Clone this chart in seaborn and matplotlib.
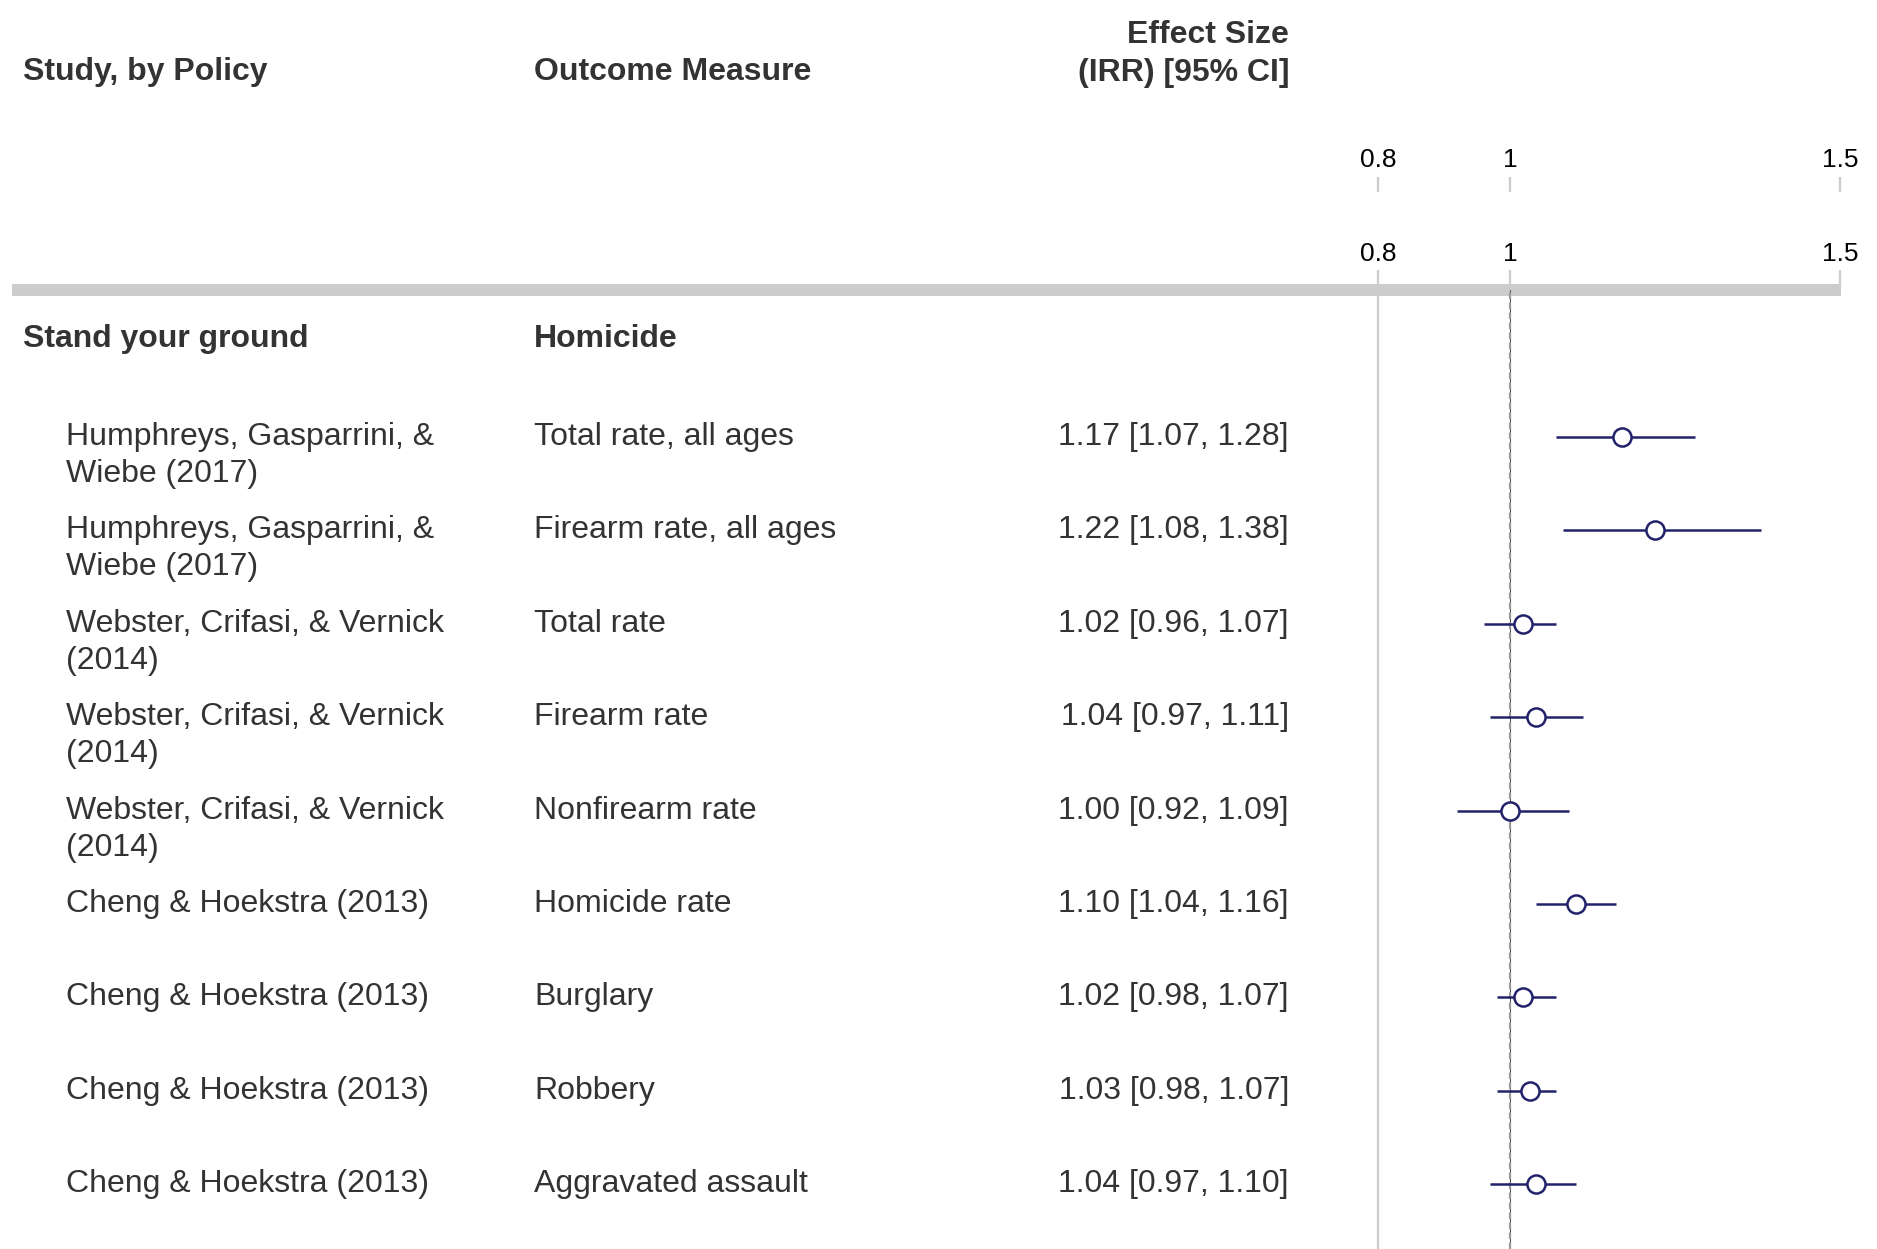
import numpy as np
import pandas as pd
import seaborn as sns
import matplotlib.pyplot as plt
from matplotlib.lines import Line2D
from matplotlib.transforms import blended_transform_factory

# Dados
policy = 'Stand your ground'
outcome_group = 'Homicide'
studies = [
    'Humphreys, Gasparrini, &\nWiebe (2017)',
    'Humphreys, Gasparrini, &\nWiebe (2017)',
    'Webster, Crifasi, & Vernick\n(2014)',
    'Webster, Crifasi, & Vernick\n(2014)',
    'Webster, Crifasi, & Vernick\n(2014)',
    'Cheng & Hoekstra (2013)',
    'Cheng & Hoekstra (2013)',
    'Cheng & Hoekstra (2013)',
    'Cheng & Hoekstra (2013)',
]
outcomes = [
    'Total rate, all ages',
    'Firearm rate, all ages',
    'Total rate',
    'Firearm rate',
    'Nonfirearm rate',
    'Homicide rate',
    'Burglary',
    'Robbery',
    'Aggravated assault',
]
irr = [1.17, 1.22, 1.02, 1.04, 1.00, 1.10, 1.02, 1.03, 1.04]
ci_low = [1.07, 1.08, 0.96, 0.97, 0.92, 1.04, 0.98, 0.98, 0.97]
ci_high = [1.28, 1.38, 1.07, 1.11, 1.09, 1.16, 1.07, 1.07, 1.10]
tick_values = [0.8, 1, 1.5]
tick_labels = ['0.8', '1', '1.5']

df = pd.DataFrame({'study': studies, 'outcome': outcomes, 'irr': irr,
                   'low': ci_low, 'high': ci_high})
df['row'] = np.arange(1, len(df) + 1)

sns.set_style('white')
plt.rcParams['font.family'] = ['Liberation Sans', 'DejaVu Sans']

W, H = 1877, 1249
fig = plt.figure(figsize=(W / 100, H / 100), dpi=100)

# geometria em pixels
px_unit = 660.0
x_one = 1510
ax_left, ax_right = 1333, 1842
ax_top = 290
row0, row_step = 343.6, 93.4

ax = fig.add_axes([ax_left / W, 0, (ax_right - ax_left) / W, (H - ax_top) / H])
ax.patch.set_visible(False)

navy = '#21226a'
txt = '#333333'

ax.axvline(0.8, color='#cccccc', lw=1.6, zorder=1)
ax.axvline(1, color='#444444', lw=0.7, zorder=1)
ax.axvline(1, color='#9a9a9a', lw=1.6, ls=(0, (3, 1.5)), zorder=1)

ax.hlines(df['row'], df['low'], df['high'], color=navy, lw=1.8, zorder=2)
sns.scatterplot(data=df, x='irr', y='row', ax=ax, s=170, color='white',
                edgecolor=navy, linewidth=1.8, zorder=3, legend=False)

ax.set_xlim(1 - (x_one - ax_left) / px_unit, 1 + (ax_right - x_one) / px_unit)
ax.set_ylim((H - row0) / row_step, (ax_top - row0) / row_step)
ax.set_xlabel('')
ax.set_ylabel('')
ax.set_yticks([])
for s in ax.spines.values():
    s.set_visible(False)

# eixo superior (dois niveis)
ax.xaxis.tick_top()
ax.set_xticks(tick_values)
ax.set_xticklabels(tick_labels)
ax.tick_params(axis='x', top=True, bottom=False, length=14.4, width=1.6,
               color='#cccccc', labelsize=19, labelcolor='black', pad=3)
sec = ax.secondary_xaxis((H - 192) / (H - ax_top))
sec.set_xticks(tick_values)
sec.set_xticklabels(tick_labels)
sec.tick_params(axis='x', length=10.5, width=1.6, color='#cccccc',
                labelsize=19, labelcolor='black', pad=4)
sec.spines['top'].set_visible(False)

# barra grossa
fig.add_artist(Line2D([12 / W, 1841 / W], [1 - ax_top / H] * 2, lw=8.6,
                      color='#cccccc', solid_capstyle='butt', zorder=0))

# cabecalhos
fs = 23
def fy(p):
    return 1 - p / H

fig.text(23 / W, fy(72), 'Study, by Policy', fontsize=fs, fontweight='bold',
         color=txt, va='center', ha='left')
fig.text(534 / W, fy(72), 'Outcome Measure', fontsize=fs, fontweight='bold',
         color=txt, va='center', ha='left')
fig.text(1289 / W, fy(35), 'Effect Size', fontsize=fs, fontweight='bold',
         color=txt, va='center', ha='right')
fig.text(1289 / W, fy(73), '(IRR) [95% CI]', fontsize=fs, fontweight='bold',
         color=txt, va='center', ha='right')

tr = blended_transform_factory(fig.transFigure, ax.transData)
hdr_y = (339 - row0) / row_step
ax.text(23 / W, hdr_y, policy, transform=tr, fontsize=fs, fontweight='bold',
        color=txt, va='center', ha='left', clip_on=False)
ax.text(534 / W, hdr_y, outcome_group, transform=tr, fontsize=fs,
        fontweight='bold', color=txt, va='center', ha='left', clip_on=False)

line_gap = 37 / row_step
for _, r in df.iterrows():
    for k, line in enumerate(r['study'].split('\n')):
        ax.text(66 / W, r['row'] + k * line_gap, line, transform=tr,
                fontsize=fs, color=txt, va='center', ha='left', clip_on=False)
    ax.text(534 / W, r['row'], r['outcome'], transform=tr, fontsize=fs,
            color=txt, va='center', ha='left', clip_on=False)
    ax.text(1289 / W, r['row'],
            f"{r['irr']:.2f} [{r['low']:.2f}, {r['high']:.2f}]",
            transform=tr, fontsize=fs, color=txt, va='center', ha='right',
            clip_on=False)

plt.savefig('out.png', dpi=100)
